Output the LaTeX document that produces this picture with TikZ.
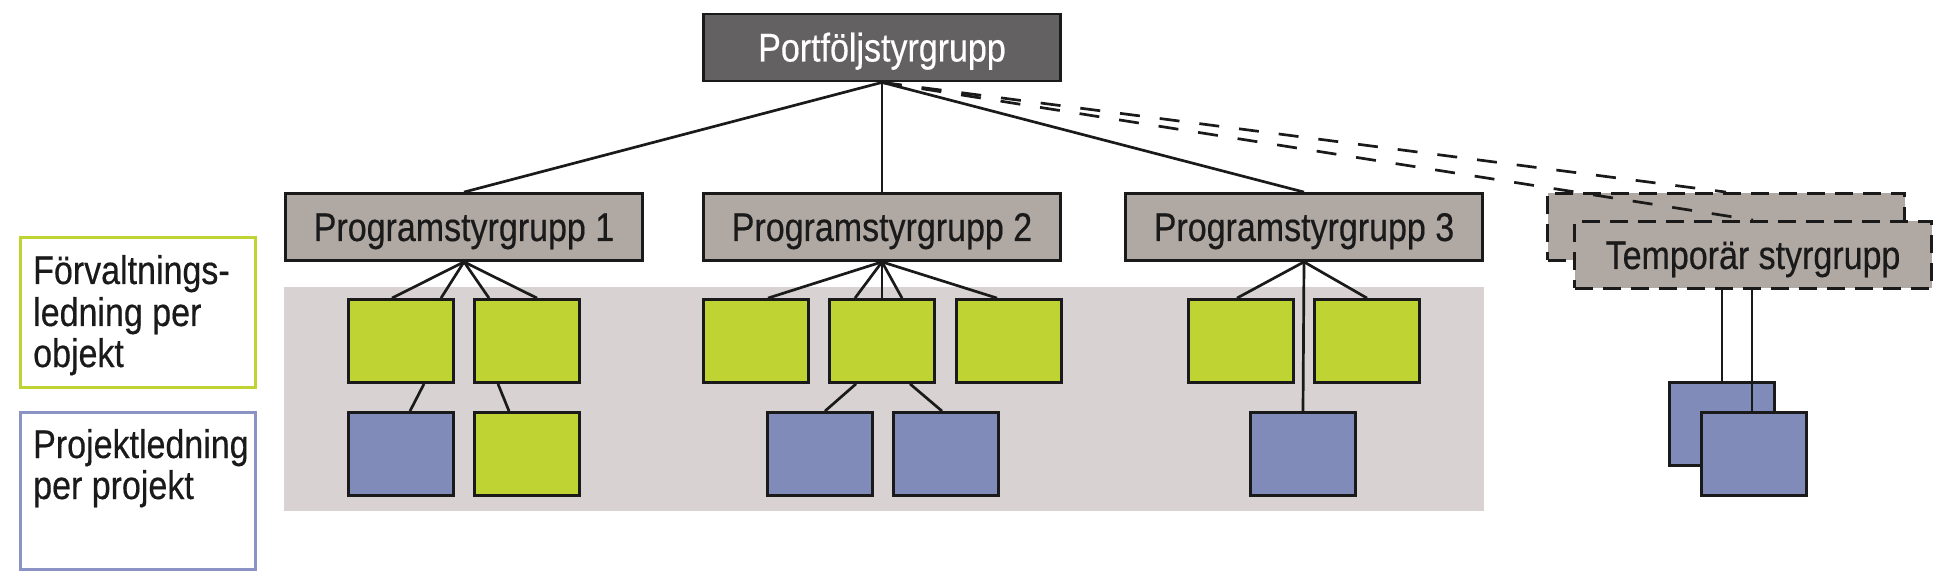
\documentclass[tikz,border=0pt]{standalone}
\usepackage{fontspec}
\setmainfont[FakeStretch=0.85,FakeBold=0.4]{Liberation Sans}
\definecolor{portf}{RGB}{99,97,98}
\definecolor{progc}{RGB}{176,168,163}
\definecolor{panelc}{RGB}{217,210,210}
\definecolor{lgreen}{RGB}{191,212,50}
\definecolor{lblue}{RGB}{129,139,185}
\definecolor{legblue}{RGB}{138,147,196}
\definecolor{inkc}{RGB}{26,26,26}
\begin{document}
\begin{tikzpicture}[x=1pt,y=-1pt,
  txt/.style={font=\fontsize{40}{42}\selectfont, text=inkc},
  grp/.style={txt, draw=inkc, line width=2.8pt, inner sep=0pt, minimum width=357pt, minimum height=67pt, text height=32pt, text depth=4pt},
  progbox/.style={grp, fill=progc},
  tempbox/.style={grp, fill=progc, dash pattern=on 18pt off 10pt},
  gbox/.style={draw=inkc, line width=2.8pt, fill=lgreen, inner sep=0pt, minimum width=105pt, minimum height=83pt},
  bbox/.style={gbox, fill=lblue},
  conn/.style={draw=inkc, line width=2.7pt},
  dconn/.style={conn, dash pattern=on 20pt off 20pt},
  legtxt/.style={txt, anchor=base west, inner sep=0pt}
]
\useasboundingbox (0,0) rectangle (1947,577);

% panel
\node[fill=panelc, inner sep=0pt, minimum width=1200pt, minimum height=224pt] (panel) at (884,399) {};

% legend
\node[draw=lgreen, line width=3pt, inner sep=0pt, minimum width=235pt, minimum height=150pt] (leg1) at (138,312.5) {};
\node[draw=legblue, line width=3pt, inner sep=0pt, minimum width=235pt, minimum height=157pt] (leg2) at (138,491) {};
\node[legtxt] (l1a) at (33,284) {Förvaltnings-};
\node[legtxt] (l1b) at (33,326) {ledning per};
\node[legtxt] (l1c) at (33,367) {objekt};
\node[legtxt] (l2a) at (33,458) {Projektledning};
\node[legtxt] (l2b) at (33,499) {per projekt};

% top
\node[grp, fill=portf, text=white] (port) at (882,47.5) {Portföljstyrgrupp};

% program groups
\node[progbox] (p1) at (464,227) {Programstyrgrupp 1};
\node[progbox] (p2) at (882,227) {Programstyrgrupp 2};
\node[progbox] (p3) at (1304,227) {Programstyrgrupp 3};

% temporary groups (back)
\node[tempbox] (tb) at (1726,227) {};

% connectors from top
\draw[conn] (port.south) -- (p1.north);
\draw[conn] (port.south) -- (p2.north);
\draw[conn] (port.south) -- (p3.north);
\draw[dconn] (port.south) -- (tb.north);
\node[tempbox] (tf) at (1753,255) {Temporär styrgrupp};
\draw[dconn] (port.south) -- (tf.north);

% group 1 boxes
\node[gbox] (g11) at (401,341) {};
\node[gbox] (g12) at (527,341) {};
\node[bbox] (b11) at (401,454) {};
\node[gbox] (g13) at (527,454) {};
\draw[conn] (p1.south) -- ([xshift=-9pt]g11.north);
\draw[conn] (p1.south) -- ([xshift=40pt]g11.north);
\draw[conn] (p1.south) -- ([xshift=-38pt]g12.north);
\draw[conn] (p1.south) -- ([xshift=10pt]g12.north);
\draw[conn] ([xshift=23pt]g11.south) -- ([xshift=9pt]b11.north);
\draw[conn] ([xshift=-29pt]g12.south) -- ([xshift=-18pt]g13.north);

% group 2 boxes
\node[gbox] (g21) at (756,341) {};
\node[gbox] (g22) at (882,341) {};
\node[gbox] (g23) at (1009,341) {};
\node[bbox] (b21) at (820,454) {};
\node[bbox] (b22) at (946,454) {};
\draw[conn] (p2.south) -- ([xshift=12pt]g21.north);
\draw[conn] (p2.south) -- ([xshift=-27pt]g22.north);
\draw[conn] (p2.south) -- (g22.north);
\draw[conn] (p2.south) -- ([xshift=20pt]g22.north);
\draw[conn] (p2.south) -- ([xshift=-12pt]g23.north);
\draw[conn] ([xshift=-26pt]g22.south) -- ([xshift=5pt]b21.north);
\draw[conn] ([xshift=28pt]g22.south) -- ([xshift=-4pt]b22.north);

% group 3 boxes
\node[gbox] (g31) at (1241,341) {};
\node[gbox] (g32) at (1367,341) {};
\node[bbox] (b31) at (1303,454) {};
\draw[conn] (p3.south) -- ([xshift=-4pt]g31.north);
\draw[conn] (p3.south) -- (g32.north);
\draw[conn] (p3.south) -- (b31.north);

% temporary projects
\node[bbox] (tb1) at (1722,424) {};
\draw[conn] (tb1.north |- tf.south) -- (tb1.north);
\draw[conn] ([xshift=-1pt]tf.south) -- ([xshift=-1pt]tf.south |- 0,411);
\node[bbox] (tb2) at (1754,454) {};
\end{tikzpicture}
\end{document}
